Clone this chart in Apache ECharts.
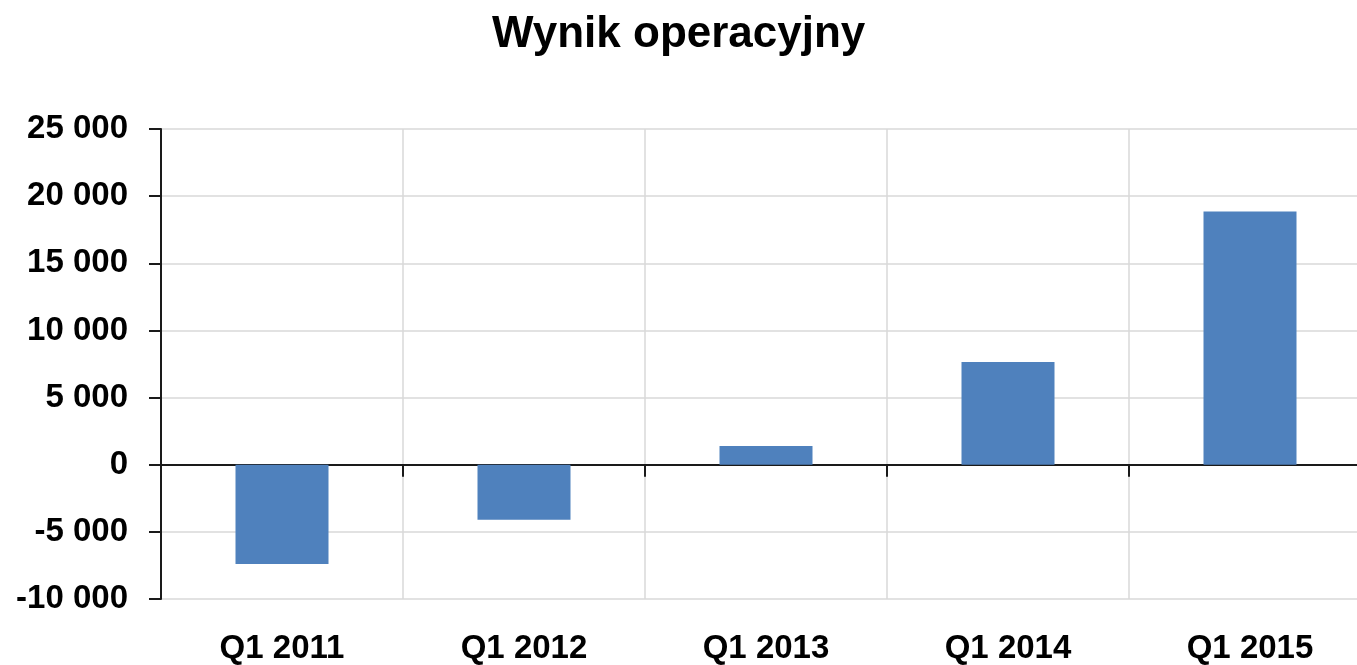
<!DOCTYPE html>
<html>
<head>
<meta charset="utf-8">
<script src="https://cdn.jsdelivr.net/npm/echarts@6/dist/echarts.min.js"></script>
<style>
  html, body { margin: 0; padding: 0; background: #fff; overflow: hidden; }
  /* obszar wykresu wychodzi poza prawą krawędź, jak w oryginale */
  #chart { width: 1371px; height: 665px; }
</style>
</head>
<body>
<div id="chart"></div>
<script>
// dane wykresu
var categories = ['Q1 2011', 'Q1 2012', 'Q1 2013', 'Q1 2014', 'Q1 2015'];
var wynik = [-7400, -4100, 1400, 7650, 18850];
var yMin = -10000;
var yMax = 25000;
var yStep = 5000;

function formatThousands(v) {
  var s = String(Math.abs(v)).replace(/\B(?=(\d{3})+(?!\d))/g, ' ');
  return (v < 0 ? '-' : '') + s;
}

var font = '"Liberation Sans", Arial, sans-serif';
var chart = echarts.init(document.getElementById('chart'));

var option = {
  backgroundColor: '#ffffff',
  animation: false,
  title: {
    text: 'Wynik operacyjny',
    left: 487,
    top: 8,
    textStyle: {
      fontFamily: font,
      fontWeight: 'bold',
      fontSize: 44,
      color: '#000'
    }
  },
  grid: {
    left: 161,
    top: 129,
    bottom: 66,
    right: 0,
    containLabel: false
  },
  xAxis: [
    {
      // etykiety na dole + pionowe linie siatki
      type: 'category',
      data: categories,
      position: 'bottom',
      axisLine: { show: false, onZero: false },
      axisTick: { show: false },
      axisLabel: {
        margin: 33,
        interval: 0,
        fontFamily: font,
        fontWeight: 'bold',
        fontSize: 33,
        color: '#000'
      },
      splitLine: {
        show: true,
        interval: 0,
        lineStyle: { color: '#d9d9d9', width: 1.5 }
      }
    },
    {
      // oś na poziomie zera
      type: 'category',
      data: categories,
      position: 'top',
      axisLine: { show: true, onZero: true, lineStyle: { color: '#1a1a1a', width: 2 } },
      axisTick: { show: true, inside: true, length: 12, interval: 0, lineStyle: { color: '#1a1a1a', width: 2 } },
      axisLabel: { show: false },
      splitLine: { show: false }
    }
  ],
  yAxis: {
    type: 'value',
    min: yMin,
    max: yMax,
    interval: yStep,
    axisLine: { show: true, onZero: false, lineStyle: { color: '#1a1a1a', width: 2 } },
    axisTick: { show: true, length: 12, lineStyle: { color: '#1a1a1a', width: 2 } },
    axisLabel: {
      margin: 33,
      fontFamily: font,
      fontWeight: 'bold',
      fontSize: 33,
      color: '#000',
      formatter: formatThousands
    },
    splitLine: {
      show: true,
      lineStyle: { color: '#d9d9d9', width: 1.5 }
    }
  },
  series: [
    {
      name: 'Wynik operacyjny',
      type: 'bar',
      xAxisIndex: 0,
      data: wynik,
      barWidth: 93,
      itemStyle: { color: '#4f81bd' }
    }
  ]
};

chart.setOption(option);
</script>
</body>
</html>
